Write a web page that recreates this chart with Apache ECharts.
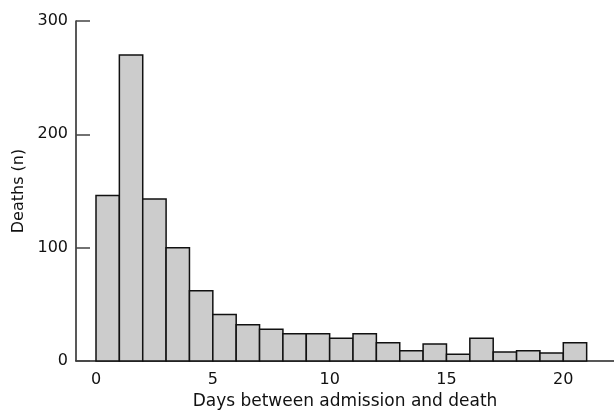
<!DOCTYPE html>
<html>
<head>
<meta charset="utf-8">
<script src="https://cdn.jsdelivr.net/npm/echarts@6/dist/echarts.min.js"></script>
<style>html,body{margin:0;padding:0;background:#fff}#c{width:614px;height:415px}</style>
</head>
<body>
<div id="c"></div>
<script>
var binStarts = [0,1,2,3,4,5,6,7,8,9,10,11,12,13,14,15,16,17,18,19,20];
var deaths = [146,270,143,100,62,41,32,28,24,24,20,24,16,9,15,6,20,8,9,7,16];
var xTicks = [0,5,10,15,20];
var yTicks = [0,100,200,300];

var FONT = 'DejaVu Sans';
var chart = echarts.init(document.getElementById('c'), null, {renderer:'canvas'});
chart.setOption({
  animation:false,
  backgroundColor:'#fff',
  grid:{left:76, right:0, top:21, bottom:54},
  xAxis:{
    type:'value', min:-0.856, max:22.17,
    name:'Days between admission and death',
    nameLocation:'middle', nameGap:30,
    nameTextStyle:{fontFamily:FONT, fontSize:17, color:'#111'},
    axisLine:{show:true, onZero:false, lineStyle:{color:'#222', width:1.5}},
    axisTick:{show:false},
    splitLine:{show:false},
    axisLabel:{customValues:xTicks, fontFamily:FONT, fontSize:16, color:'#111', margin:11}
  },
  yAxis:{
    type:'value', min:0, max:300, interval:100,
    name:'Deaths (n)',
    nameLocation:'middle', nameGap:46,
    nameTextStyle:{fontFamily:FONT, fontSize:16, color:'#111'},
    axisLine:{show:true, onZero:false, lineStyle:{color:'#222', width:1.5}},
    axisTick:{show:true, inside:true, length:14, lineStyle:{color:'#444', width:1.5}},
    splitLine:{show:false},
    axisLabel:{customValues:yTicks, fontFamily:FONT, fontSize:16, color:'#111', margin:8}
  },
  series:[{
    type:'custom',
    data: binStarts.map(function(s,i){return [s, s+1, deaths[i]];}),
    encode:{x:[0,1], y:2},
    renderItem:function(params, api){
      var p0 = api.coord([api.value(0), api.value(2)]);
      var p1 = api.coord([api.value(1), 0]);
      return {
        type:'rect',
        shape:{x:p0[0], y:p0[1], width:p1[0]-p0[0], height:p1[1]-p0[1]},
        style:{fill:'#cccccc', stroke:'#111', lineWidth:1.5}
      };
    }
  }]
});
</script>
</body>
</html>
